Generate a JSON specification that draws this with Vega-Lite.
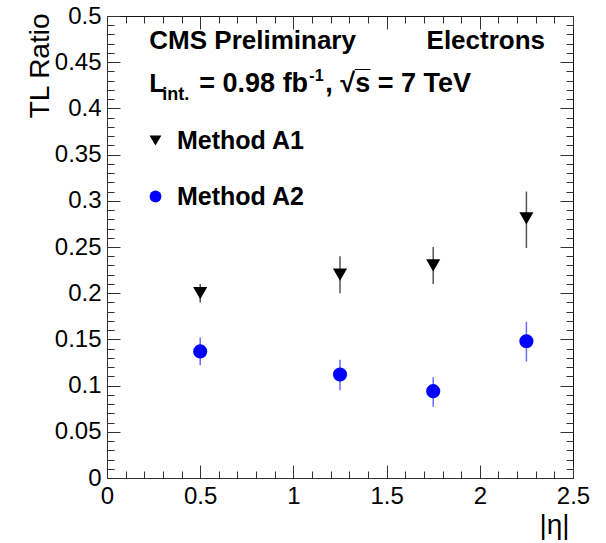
{
  "$schema": "https://vega.github.io/schema/vega-lite/v6.json",
  "width": 466,
  "height": 462,
  "autosize": {"type": "none"},
  "padding": {"left": 107, "top": 16, "right": 33, "bottom": 65},
  "background": "white",
  "config": {
    "font": "Liberation Sans",
    "view": {"stroke": "#111", "strokeWidth": 1},
    "axis": {
      "labelFont": "Liberation Sans",
      "labelFontSize": 24,
      "labelColor": "#000",
      "tickColor": "#333",
      "tickWidth": 1,
      "domainColor": "#333",
      "grid": false,
      "labelFlush": false,
      "labelOverlap": false,
      "titleFont": "Liberation Sans",
      "titleFontWeight": "normal",
      "titleColor": "#000"
    }
  },
  "datasets": {
    "pts": [
      {"eta": 0.5, "method": "Method A1", "ratio": 0.200, "lo": 0.190, "hi": 0.210},
      {"eta": 1.25, "method": "Method A1", "ratio": 0.220, "lo": 0.200, "hi": 0.240},
      {"eta": 1.75, "method": "Method A1", "ratio": 0.230, "lo": 0.210, "hi": 0.250},
      {"eta": 2.25, "method": "Method A1", "ratio": 0.281, "lo": 0.249, "hi": 0.310},
      {"eta": 0.5, "method": "Method A2", "ratio": 0.137, "lo": 0.122, "hi": 0.152},
      {"eta": 1.25, "method": "Method A2", "ratio": 0.112, "lo": 0.095, "hi": 0.128},
      {"eta": 1.75, "method": "Method A2", "ratio": 0.094, "lo": 0.077, "hi": 0.109},
      {"eta": 2.25, "method": "Method A2", "ratio": 0.148, "lo": 0.126, "hi": 0.169}
    ],
    "ann": [
      {"piece": "cms", "x": 0.227, "y": 0.464, "label": "CMS Preliminary"},
      {"piece": "el", "x": 2.35, "y": 0.464, "label": "Electrons"},
      {"piece": "L", "x": 0.227, "y": 0.418, "label": "L"},
      {"piece": "sub", "x": 0.227, "y": 0.418, "label": "int."},
      {"piece": "mid", "x": 0.227, "y": 0.418, "label": "= 0.98 fb"},
      {"piece": "sup", "x": 0.227, "y": 0.418, "label": "-1"},
      {"piece": "end", "x": 0.227, "y": 0.418, "label": ",  √s̅ = 7 TeV"}
    ]
  },
  "layer": [
    {
      "data": {"name": "pts"},
      "transform": [{"filter": "datum.method === 'Method A1'"}],
      "mark": {"type": "rule", "color": "#555", "strokeWidth": 1.5},
      "encoding": {
        "x": {"field": "eta", "type": "quantitative", "scale": {"domain": [0, 2.5], "nice": false, "zero": false},
          "axis": {"orient": "bottom", "values": [0, 0.5, 1, 1.5, 2, 2.5], "format": "~g", "tickSize": -13, "labelPadding": 19, "labelBaseline": "top",
            "title": "|η|", "titleFontSize": 28, "titleAnchor": "end", "titleAlign": "right", "titleBaseline": "alphabetic", "titleX": 462, "titleY": 55}},
        "y": {"field": "lo", "type": "quantitative", "scale": {"domain": [0, 0.5], "nice": false, "zero": false},
          "axis": {"orient": "left", "values": [0, 0.05, 0.1, 0.15, 0.2, 0.25, 0.3, 0.35, 0.4, 0.45, 0.5], "format": "~g", "tickSize": -13, "labelPadding": 19,
            "title": "TL Ratio", "titleFontSize": 28, "titleAngle": -90, "titleAnchor": "end", "titleAlign": "right", "titleBaseline": "alphabetic", "titleX": -59, "titleY": -3}},
        "y2": {"field": "hi"}
      }
    },
    {
      "data": {"name": "pts"},
      "transform": [{"filter": "datum.method === 'Method A2'"}],
      "mark": {"type": "rule", "color": "#6a6aff", "strokeWidth": 1.5},
      "encoding": {
        "x": {"field": "eta", "type": "quantitative",
          "axis": {"orient": "bottom", "values": [0.1, 0.2, 0.3, 0.4, 0.6, 0.7, 0.8, 0.9, 1.1, 1.2, 1.3, 1.4, 1.6, 1.7, 1.8, 1.9, 2.1, 2.2, 2.3, 2.4], "tickSize": -7, "labels": false, "domain": false, "title": null}},
        "y": {"field": "lo", "type": "quantitative",
          "axis": {"orient": "left", "values": [0.01, 0.02, 0.03, 0.04, 0.06, 0.07, 0.08, 0.09, 0.11, 0.12, 0.13, 0.14, 0.16, 0.17, 0.18, 0.19, 0.21, 0.22, 0.23, 0.24, 0.26, 0.27, 0.28, 0.29, 0.31, 0.32, 0.33, 0.34, 0.36, 0.37, 0.38, 0.39, 0.41, 0.42, 0.43, 0.44, 0.46, 0.47, 0.48, 0.49], "tickSize": -7, "labels": false, "domain": false, "title": null}},
        "y2": {"field": "hi"}
      }
    },
    {
      "data": {"name": "pts"},
      "mark": {"type": "point", "filled": true, "size": 200, "opacity": 1, "strokeWidth": 0},
      "encoding": {
        "x": {"field": "eta", "type": "quantitative",
          "axis": {"orient": "top", "values": [0, 0.5, 1, 1.5, 2, 2.5], "tickSize": -13, "labels": false, "domain": false, "title": null}},
        "y": {"field": "ratio", "type": "quantitative",
          "axis": {"orient": "right", "values": [0, 0.05, 0.1, 0.15, 0.2, 0.25, 0.3, 0.35, 0.4, 0.45, 0.5], "tickSize": -13, "labels": false, "domain": false, "title": null}},
        "shape": {"field": "method", "type": "nominal",
          "scale": {"domain": ["Method A1", "Method A2"], "range": ["triangle-down", "circle"]},
          "legend": {"orient": "none", "legendX": 36, "legendY": 112, "title": null, "labelFont": "Liberation Sans", "labelFontWeight": "bold", "labelFontSize": 25, "labelColor": "#000", "symbolSize": 140, "labelOffset": 9, "rowPadding": 30, "symbolStrokeWidth": 0}},
        "color": {"field": "method", "type": "nominal",
          "scale": {"domain": ["Method A1", "Method A2"], "range": ["#000000", "#0000ff"]},
          "legend": {"orient": "none", "legendX": 36, "legendY": 112, "title": null, "labelFont": "Liberation Sans", "labelFontWeight": "bold", "labelFontSize": 25, "labelColor": "#000", "symbolSize": 140, "labelOffset": 9, "rowPadding": 30, "symbolStrokeWidth": 0}}
      }
    },
    {
      "data": {"name": "ann"},
      "transform": [{"filter": "datum.piece === 'cms'"}],
      "mark": {"type": "text", "align": "left", "baseline": "alphabetic", "fontSize": 26, "fontWeight": "bold", "color": "#000"},
      "encoding": {
        "x": {"field": "x", "type": "quantitative",
          "axis": {"orient": "top", "values": [0.1, 0.2, 0.3, 0.4, 0.6, 0.7, 0.8, 0.9, 1.1, 1.2, 1.3, 1.4, 1.6, 1.7, 1.8, 1.9, 2.1, 2.2, 2.3, 2.4], "tickSize": -7, "labels": false, "domain": false, "title": null}},
        "y": {"field": "y", "type": "quantitative",
          "axis": {"orient": "right", "values": [0.01, 0.02, 0.03, 0.04, 0.06, 0.07, 0.08, 0.09, 0.11, 0.12, 0.13, 0.14, 0.16, 0.17, 0.18, 0.19, 0.21, 0.22, 0.23, 0.24, 0.26, 0.27, 0.28, 0.29, 0.31, 0.32, 0.33, 0.34, 0.36, 0.37, 0.38, 0.39, 0.41, 0.42, 0.43, 0.44, 0.46, 0.47, 0.48, 0.49], "tickSize": -7, "labels": false, "domain": false, "title": null}},
        "text": {"field": "label"}
      }
    },
    {
      "data": {"name": "ann"},
      "transform": [{"filter": "datum.piece === 'el'"}],
      "mark": {"type": "text", "align": "right", "baseline": "alphabetic", "fontSize": 26, "fontWeight": "bold", "color": "#000"},
      "encoding": {
        "x": {"field": "x", "type": "quantitative", "axis": null},
        "y": {"field": "y", "type": "quantitative", "axis": null},
        "text": {"field": "label"}
      }
    },
    {
      "data": {"name": "ann"},
      "transform": [{"filter": "datum.piece === 'L'"}],
      "mark": {"type": "text", "align": "left", "baseline": "alphabetic", "fontSize": 26, "fontWeight": "bold", "color": "#000"},
      "encoding": {
        "x": {"field": "x", "type": "quantitative", "axis": null},
        "y": {"field": "y", "type": "quantitative", "axis": null},
        "text": {"field": "label"}
      }
    },
    {
      "data": {"name": "ann"},
      "transform": [{"filter": "datum.piece === 'sub'"}],
      "mark": {"type": "text", "align": "left", "baseline": "alphabetic", "fontSize": 18, "fontWeight": "bold", "color": "#000", "dx": 13, "dy": 8},
      "encoding": {
        "x": {"field": "x", "type": "quantitative", "axis": null},
        "y": {"field": "y", "type": "quantitative", "axis": null},
        "text": {"field": "label"}
      }
    },
    {
      "data": {"name": "ann"},
      "transform": [{"filter": "datum.piece === 'mid'"}],
      "mark": {"type": "text", "align": "left", "baseline": "alphabetic", "fontSize": 27, "fontWeight": "bold", "color": "#000", "dx": 50},
      "encoding": {
        "x": {"field": "x", "type": "quantitative", "axis": null},
        "y": {"field": "y", "type": "quantitative", "axis": null},
        "text": {"field": "label"}
      }
    },
    {
      "data": {"name": "ann"},
      "transform": [{"filter": "datum.piece === 'sup'"}],
      "mark": {"type": "text", "align": "left", "baseline": "alphabetic", "fontSize": 16, "fontWeight": "bold", "color": "#000", "dx": 160, "dy": -11},
      "encoding": {
        "x": {"field": "x", "type": "quantitative", "axis": null},
        "y": {"field": "y", "type": "quantitative", "axis": null},
        "text": {"field": "label"}
      }
    },
    {
      "data": {"name": "ann"},
      "transform": [{"filter": "datum.piece === 'end'"}],
      "mark": {"type": "text", "align": "left", "baseline": "alphabetic", "fontSize": 27, "fontWeight": "bold", "color": "#000", "dx": 176},
      "encoding": {
        "x": {"field": "x", "type": "quantitative", "axis": null},
        "y": {"field": "y", "type": "quantitative", "axis": null},
        "text": {"field": "label"}
      }
    }
  ],
  "resolve": {"axis": {"x": "independent", "y": "independent"}}
}
